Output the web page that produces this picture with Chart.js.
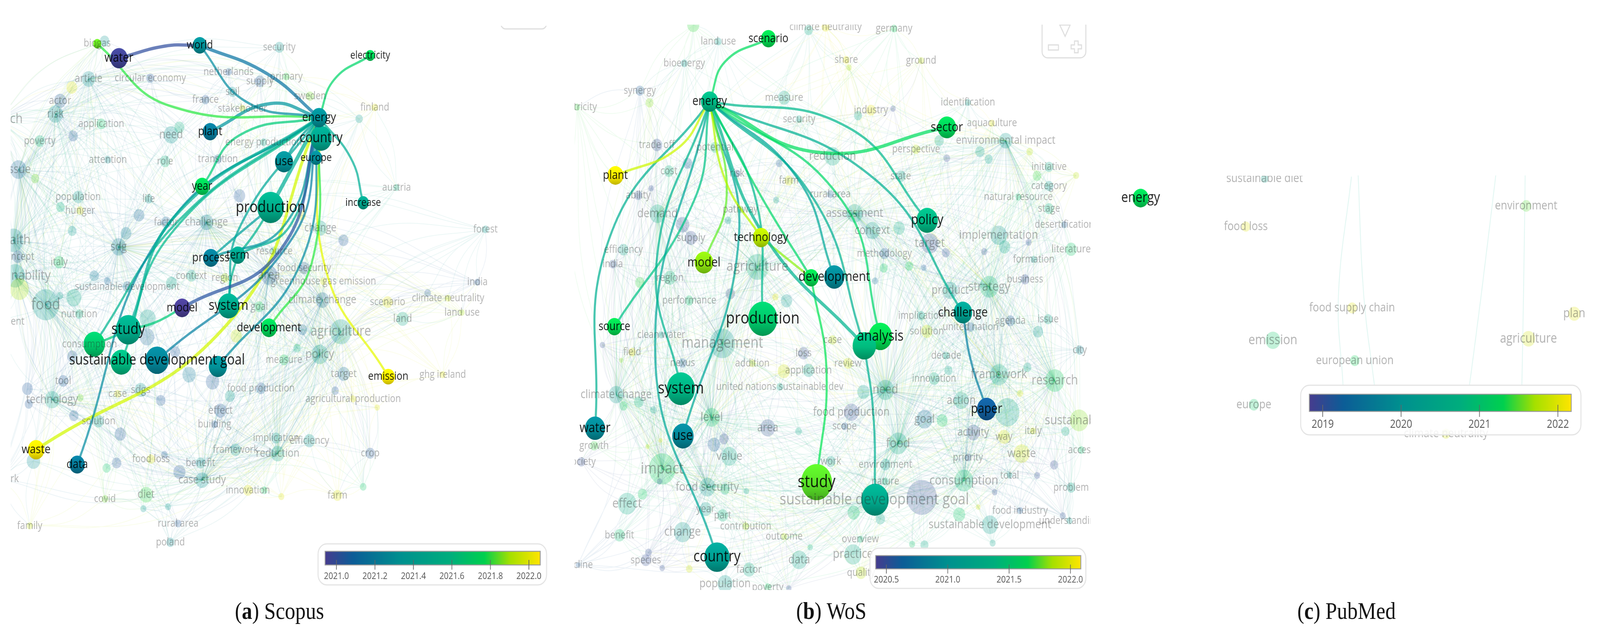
<!DOCTYPE html>
<html>
<head>
<meta charset="utf-8">
<title>Keyword maps</title>
<script src="https://cdn.jsdelivr.net/npm/chart.js@4/dist/chart.umd.min.js"></script>
<style>
    html, body { margin: 0; padding: 0; background: #fff; overflow: hidden; }
    canvas { display: block; }
</style>
</head>
<body>
<!-- drawn at the figure's own size, then fitted to whatever window it is opened in -->
<canvas id="mapChart" width="4789" height="1615" style="width:100vw;height:100vh"></canvas>
<script>
    // map units are the pixels of the source figure
    const scopusFocusLabels = ['water','~biogas','world','electricity','country','energy','europe','use','plant','year','increase','production','process','term','model','system','development','study','~consumption','~goal','sustainable development goal','~sdg','emission','waste','data'];
    const scopusFocusX = [356,291,598,1108,961,955,946,850,629,605,1087,810,631,712,545,684,805,384,282,363,470,652,1162,108,231];
    const scopusFocusY = [149,112,116,142,354,301,404,414,337,477,519,531,660,653,788,783,839,844,881,927,922,938,964,1151,1189];
    const scopusFocusHits = [16.5,3.5,11,4.8,25,15,8,18,12,12,7,39,13,12,14,25,14,35,25,25,30,18,9.8,15,13];
    const scopusFocusYear = [2020.96,2021.85,2021.3,2021.75,2021.45,2021.3,2021.28,2021.3,2021.2,2021.75,2021.45,2021.5,2021.22,2021.45,2020.94,2021.48,2021.75,2021.5,2021.68,2021.6,2021.25,2021.3,2022.05,2022.05,2021.2];

    const scopusLinkFrom = ['water','world','world','~biogas','plant','electricity','year','energy','energy','energy','energy','energy','energy','energy','energy','energy','energy','energy','energy','energy','energy','energy','energy','energy','energy','production','production','system','model','~consumption'];
    const scopusLinkTo = ['world','energy','energy','energy','energy','energy','energy','study','data','~consumption','~goal','sustainable development goal','~sdg','model','system','production','process','term','use','country','europe','development','emission','waste','increase','process','term','term','study','study'];
    const scopusLinkMidX = [494,800,736,505,810,1000,715,526,494,540,510,873,905,842,715,880,852,873,890,958,950,936,975,695,1052,720,760,690,465,330];
    const scopusLinkMidY = [118,189,260,270,265,204,347,551,586,560,600,612,663,637,586,420,576,571,360,330,350,663,690,815,408,595,600,720,825,865];
    const scopusLinkYear = [2021.0,2021.15,2021.25,2021.8,2021.3,2021.7,2021.65,2021.45,2021.25,2021.5,2021.55,2021.2,2021.25,2021.02,2021.4,2021.45,2021.3,2021.45,2021.35,2021.4,2021.3,2021.8,2021.98,2021.95,2021.45,2021.35,2021.5,2021.5,2021.65,2021.65];
    const scopusLinkWeight = [3,3,2,2,3,2,2,3,2,2,2,2,2,3,2,4,2,2,2,3,3,2,2,3,2,2,2,2,2,2];

    const scopusFaintLabels = [
        'biogas','','article','circular economy','','actor','risk','research','application','poverty',
        '','need','','netherlands','security','supply','primary','soil','france','sweden',
        'finland','','stakeholder','energy production','transition','attention','role','issue','','population',
        'life','','austria','','','hunger','factor','challenge','change','',
        'forest','','','','health','sdg','resource','concept','italy','food security',
        'area','','sustainability','context','region','','','sustainable development','greenhouse gas emission','india',
        'climate neutrality','','climate change','scenario','goal','food','','','','nutrition',
        'land','land use','environment','','agriculture','','','','','consumption',
        'policy','measure','','','','','target','ghg ireland','tool','',
        'technology','','','case','sdgs','food production','','','agricultural production','',
        '','effect','','solution','building','','implication','efficiency','framework','reduction',
        'crop','food loss','benefit','','','','','case study','network','',
        'innovation','','','farm','','diet','covid','','','family',
        'rural area','poland'];
    const scopusFaintX = [
        291,313,265,450,215,180,166,-3,303,119,
        219,512,537,684,836,778,857,696,615,928,
        1122,1075,726,789,652,323,494,55,105,234,
        445,717,1187,416,181,240,497,618,959,903,
        1453,216,377,1028,40,355,821,53,177,910,
        805,282,45,573,673,513,321,381,968,1429,
        1341,1280,965,1160,776,137,221,58,179,237,
        1205,1383,-7,442,1020,905,440,707,889,268,
        957,850,216,566,636,524,1029,1325,189,82,
        156,240,86,352,421,781,688,1003,1057,1129,
        481,660,221,295,642,360,826,926,705,831,
        1108,452,600,492,349,319,537,605,5,100,
        742,791,842,1010,1087,437,314,429,503,89,
        533,510];
    const scopusFaintY = [
        111,105,202,200,224,258,292,305,317,361,
        348,345,326,184,121,208,196,235,255,246,
        275,304,278,364,407,409,413,434,457,504,
        509,501,480,551,530,539,569,569,584,551,
        587,591,597,615,615,632,643,657,671,686,
        704,706,706,706,711,724,719,734,720,722,
        763,750,768,773,785,780,762,740,757,804,
        816,800,823,816,849,844,862,860,891,881,
        907,921,912,959,977,901,957,959,975,995,
        1023,1018,1034,1008,998,994,1014,1000,1021,1043,
        1025,1051,1064,1078,1086,1111,1121,1128,1151,1161,
        1160,1175,1185,1164,1185,1198,1208,1229,1226,1180,
        1255,1255,1271,1268,1246,1266,1277,1302,1297,1346,
        1340,1388];
    const scopusFaintHits = [
        3.5,4.8,9.8,3.5,6.3,8,12,22,4.8,5.5,
        4.8,12,5.5,2.4,4.8,5.5,2.4,4.1,3.5,3.5,
        2.4,3,2.4,2.4,3.5,2.4,5.5,14,3.5,6.3,
        3.5,7,2,6.3,4.1,3,5.5,9.8,9,4.1,
        2.4,4.1,6.3,5.5,22,12,3.5,6.3,6.3,6.3,
        15,4.8,22,5.5,3.5,6.3,2.4,4.8,2.4,2,
        2,2.4,9.8,5.5,4.8,39,12,19,2.4,3.5,
        8,1.6,2.4,14,25,4.8,12,7,3,3.5,
        15,4.8,5.5,9.8,9.8,5.5,8,2,5.5,6.3,
        12,2.4,3.5,2.4,8,5.5,5.5,3,2,1.6,
        4.8,8,4.8,6.3,2.4,7,4.8,7,6.3,9.8,
        4.8,3.5,4.8,2.4,4.8,3.5,8,9.8,3.5,9.8,
        4.8,2.4,2,4.8,2.4,9.8,2.4,2,2,2,
        2.4,3.5];
    const scopusFaintYear = [
        2021.85,2021.35,2021.3,2021.05,2022,2021.05,2021.3,2021.5,2021.7,2021.6,
        2021.05,2021.35,2021.6,2021.05,2021.35,2021.05,2021.8,2021.35,2021.05,2021.85,
        2022,2021.4,2021.95,2021.5,2021.1,2021.3,2021.6,2021.1,2021.85,2021.4,
        2021.4,2021.05,2021.6,2021.1,2021.6,2022,2021.1,2021.25,2021.5,2022,
        2021.4,2021.4,2021.2,2021.05,2021.3,2021.2,2021.5,2021.05,2021.75,2021.05,
        2021.05,2021.2,2021.4,2021.5,2021.9,2021.5,2021.1,2021.1,2022,2021.05,
        2021.95,2021.05,2021.1,2022,2021.7,2021.4,2021.5,2021.9,2021.4,2021.6,
        2021.5,2021.9,2021.4,2021.45,2021.4,2021.1,2021.1,2021.95,2021.6,2021.5,
        2021.4,2021.7,2021.05,2021.2,2021.05,2021.05,2021.15,2022,2021.05,2021.05,
        2021.45,2021.85,2021.05,2022,2021.4,2021.05,2021.4,2021.05,2022,2022,
        2021.05,2021.05,2021.05,2021.4,2021.05,2021.05,2021.4,2021.35,2021.35,2021.45,
        2021.05,2022,2021.35,2021.05,2021.05,2021.7,2021.05,2021.35,2021.2,2021.3,
        2022,2021.7,2022,2022,2021.7,2021.8,2021.85,2021.4,2021.4,2021.95,
        2021.05,2021.3];
    const scopusHubs = ['food','sustainability','agriculture','policy','challenge','health','climate change','area','sdg','technology','article','risk','research','case study','reduction','issue'];

    const wosFocusLabels = ['scenario','energy','sector','policy','plant','technology','model','~development','development','challenge','production','source','analysis','~analysis','system','water','use','paper','study','~goal','country'];
    const wosFocusX = [2300,2124,2834,2775,1842,2278,2107,2428,2497,2882,2283,1839,2635,2587,2038,1781,2044,2953,2444,2619,2146];
    const wosFocusY = [99,260,326,564,449,608,672,711,709,800,816,836,861,885,995,1096,1116,1047,1234,1279,1426];
    const wosFocusHits = [12,16.5,19,25,14,15,19,12,22,19,47,12,30,30,43,22,25,20.5,52,41,35];
    const wosFocusYear = [2021.65,2021.38,2021.61,2021.38,2022.05,2021.88,2021.81,2021.65,2020.91,2021.11,2021.51,2021.65,2021.65,2021.41,2021.35,2020.91,2020.88,2020.61,2021.75,2021.21,2021.08];

    const wosLinkFrom = ['energy','energy','energy','energy','energy','energy','energy','energy','~analysis','energy','~development','technology','technology','model','plant','production','system','water','use','country','source','paper'];
    const wosLinkTo = ['scenario','sector','policy','challenge','development','analysis','~analysis','~development','~goal','~analysis','study','energy','~development','energy','energy','energy','energy','energy','energy','energy','energy','challenge'];
    const wosLinkMidX = [2170,2450,2538,2619,2385,2517,2436,2283,2614,2283,2474,2170,2353,2175,2028,2262,1966,1823,2211,1961,2079,2905];
    const wosLinkMidY = [158,390,326,459,454,510,510,510,1060,597,956,459,660,500,380,510,663,612,612,904,510,920];
    const wosLinkYear = [2021.6,2021.6,2021.3,2021.2,2021.1,2021.55,2021.2,2021.55,2021.2,2021.25,2021.65,2021.85,2021.8,2021.75,2021.9,2021.3,2021.25,2021.2,2021.1,2021.1,2021.4,2020.8];
    const wosLinkWeight = [2,3,2,2,2,2,2,2,2,3,2,2,2,2,2,2,2,2,2,2,2,2];

    const wosFaintLabels = [
        '','climate neutrality','','germany','land use','share','','ground','bioenergy','synergy',
        '','measure','security','identification','industry','','','aquaculture','electricity','trade off',
        'potential','reduction','perspective','environmental impact','','','','','cost','',
        'risk','','','state','initiative','','','category','farm','ability',
        '','rural area','','natural resource','stage','pathway','demand','assessment','','',
        'supply','','context','implementation','target','','desertification','','literature','formation',
        'efficiency','','','methodology','','','','india','agriculture','region',
        '','','business','strategy','product','','performance','','','implication',
        'agenda','issue','clean water','solution','united nation','','management','case','field','loss',
        'decade','city','nexus','addition','','','application','','review','framework',
        '','','innovation','research','climate change','need','','united nations sustainable dev','action','',
        '','','','level','','food production','goal','','scope','sustainability',
        'area','','activity','way','italy','','growth','','','',
        '','food','value','waste','access','society','priority','','environment','impact',
        'work','total','','consumption','nature','problem','food security','','','',
        '','effect','','sustainable development goal','','year','part','','','',
        '','food industry','','understanding','sustainable development','change','benefit','outcome','contribution','overview',
        '','','','','practice','species','','','data','factor',
        'decline','','quality','population','poverty',''];
    const wosFaintX = [
        2075,2471,2420,2676,2150,2533,2541,2757,2048,1915,
        1944,2347,2392,2897,2607,2673,2568,2969,1727,1966,
        2140,2492,2742,3010,2811,2933,2959,3082,2002,2058,
        2206,2332,2834,2696,3140,3104,3221,3140,2361,1910,
        1949,2485,2323,3048,3140,2216,1968,2558,2043,2179,
        2068,2691,2611,2989,2783,3007,3186,3079,3206,3094,
        1866,2946,2831,2647,2721,2645,2765,1834,2267,2005,
        1915,2619,3068,2961,2844,2186,2063,2321,2354,2757,
        3024,3137,1979,2774,2905,3107,2162,2492,1892,2405,
        2832,3232,2043,2252,1803,1859,2420,2346,2538,2990,
        3075,2839,2796,3157,1844,2650,2584,2334,2877,3053,
        3015,1912,1866,2130,1956,2548,2767,2820,2528,3230,
        2298,2390,2913,3005,3092,3189,1778,1938,2137,2167,
        1977,2688,2183,3058,3237,1740,2897,3155,2650,1982,
        2487,3022,3104,2885,2650,3206,2117,2170,2234,1974,
        2977,1877,1923,2617,2759,2112,2163,2555,2635,2871,
        2928,3053,3181,3201,2963,2043,1854,2347,2232,2575,
        2730,2767,2971,2425,2553,1933,1941,1982,2392,2242,
        1730,2063,2577,2170,2298,2361];
    const wosFaintY = [
        64,69,77,73,106,153,173,155,162,232,
        263,250,305,262,282,278,296,315,274,371,
        377,400,382,360,360,388,407,388,438,418,
        444,418,405,451,427,450,449,476,462,500,
        482,497,512,504,534,536,547,546,575,564,
        609,584,590,602,623,632,575,620,638,664,
        639,644,647,649,681,686,685,676,683,711,
        723,719,715,734,743,752,769,760,770,808,
        821,817,857,848,837,849,879,870,901,904,
        910,896,929,930,883,922,948,950,930,959,
        940,948,969,974,1010,998,1003,990,1025,1007,
        1055,1029,1039,1068,1049,1055,1073,1076,1091,1076,
        1095,1104,1107,1118,1103,1104,1141,1143,1138,1123,
        1127,1135,1168,1161,1152,1182,1171,1190,1189,1200,
        1181,1217,1217,1230,1232,1248,1247,1252,1257,1232,
        1260,1289,1265,1279,1273,1303,1319,1312,1328,1317,
        1298,1307,1320,1333,1343,1362,1370,1373,1347,1380,
        1393,1395,1390,1401,1419,1434,1414,1454,1433,1458,
        1446,1456,1466,1494,1503,1506];
    const wosFaintHits = [
        8,3.5,4.1,2.4,2.4,2.4,1.6,2,2.4,4.1,
        3.5,8,2.4,2,4.8,1.6,3.5,2,2,6.3,
        4.8,14,3.5,9.8,4.8,4.8,3.5,2.4,5.5,4.8,
        2.4,2.4,2.4,5.5,4.1,4.1,2,4.1,4.1,3.5,
        1.6,2.4,2,2,4.8,2.4,14,14,9.8,2.4,
        8,7,12,15,16.5,7,2,2,7,2,
        5.5,2,3.5,4.8,3.5,3.5,1.6,3,27,8,
        4.8,2,4.1,19,12,4.8,4.1,2,7,3.5,
        4.8,4.1,2,7,3.5,5.5,35,3.5,3,6.3,
        2.4,3.5,3.5,2.4,1.6,1,7,8,4.8,18,
        3.5,3.5,6.3,20.5,12,16.5,8,2.4,12,2,
        32,4.8,3.5,14,2.4,12,14,6.3,2.4,19,
        12,2.4,9.8,8,2,3.5,3.5,1,8,4.8,
        1,19,14,14,2.4,3.5,2.4,3.5,5.5,39,
        4.8,1.6,2,19,2.4,4.1,14,4.8,1.6,1.6,
        1.6,19,4.8,39,49,8,6.3,8,4.8,8,
        1.2,2,2,2,14,16.5,6.3,2,2.4,2,
        2,3.5,2,1.6,16.5,5.5,2.4,1.6,14,8,
        1.2,2.4,6.3,12,2.4,1.6];
    const wosFaintYear = [
        2021.7,2022,2021.3,2021.6,2021.1,2022,2021.85,2021.9,2021.1,2020.6,
        2021.8,2021.2,2021.2,2021.1,2022,2020.5,2021.2,2022,2021.7,2020.5,
        2021.5,2021.3,2021.9,2021.1,2021.3,2021.2,2021.2,2021.9,2021.4,2020.6,
        2020.5,2020.6,2020.5,2021.2,2021.3,2021.7,2021.9,2021.1,2021.95,2020.5,
        2020.5,2020.6,2021.1,2021.5,2021.4,2021.7,2021.3,2021.2,2020.5,2021.1,
        2020.5,2021.3,2021.1,2021.05,2020.5,2021.2,2020.6,2020.5,2021.55,2021.1,
        2021.2,2020.5,2020.5,2020.6,2021.6,2021.6,2020.6,2020.5,2021.35,2021.4,
        2021.7,2020.7,2020.5,2021.45,2021.1,2020.5,2021.5,2022,2021.1,2021.2,
        2020.6,2021.2,2021.1,2021.95,2020.6,2021.05,2021.1,2021.9,2022,2020.5,
        2021.2,2020.9,2020.6,2021.9,2020.5,2021.8,2021.2,2021.95,2021.95,2021.3,
        2021.2,2021.2,2021.3,2021.6,2021.1,2021.2,2021.2,2021.2,2021.2,2021.95,
        2021.2,2021.4,2021.6,2021.55,2021.2,2020.5,2020.7,2021.6,2020.6,2021.8,
        2020.5,2021.3,2020.5,2021.95,2021.95,2021.25,2021.7,2021.9,2020.6,2020.5,
        2021.95,2021.25,2021.2,2021.95,2021.5,2020.5,2020.5,2020.5,2021.1,2021.6,
        2021.2,2021.05,2020.5,2021.45,2021.4,2021.2,2021.1,2021.4,2021.2,2020.5,
        2020.5,2021.3,2021.6,2021.3,2020.5,2021.1,2021.4,2021.5,2021.2,2021.55,
        2021.95,2020.6,2020.5,2021.1,2021.15,2021.05,2021.5,2021.85,2021.85,2021.4,
        2021.5,2021.3,2021.2,2021.4,2021.25,2020.5,2020.5,2020.5,2021.2,2021.3,
        2020.6,2021.95,2021.9,2021.1,2021.6,2020.5];
    const wosHubs = ['management','agriculture','impact','food','research','consumption','strategy','food security','sustainable development goal','framework','need','level','demand','assessment','environmental impact','climate change'];

    const pubmedFocusLabels = ['energy'];
    const pubmedFocusX = [3414];
    const pubmedFocusY = [507];
    const pubmedFocusHits = [14];
    const pubmedFocusYear = [2021.27];

    const pubmedFaintLabels = ['sustainable diet','food loss','environment','food supply chain','emission','plan','agriculture','european union','europe','climate neutrality'];
    const pubmedFaintX = [3785,3729,4568,4047,3810,4712,4575,4055,3753,4328];
    const pubmedFaintY = [457,580,527,788,871,803,867,923,1036,1110];
    const pubmedFaintHits = [3,4.1,5.5,4.8,12,8,9.8,4.8,5.5,4.1];
    const pubmedFaintYear = [2020.4,2022,2021.5,2022,2021.1,2022,2021.9,2021.3,2021.1,2021.9];

    // the few pale links that cross the PubMed map: start, middle, end
    const pubmedLinkStartX = [4065,4045,4477,4565];
    const pubmedLinkMidX = [4082,4006,4433,4560];
    const pubmedLinkEndX = [4114,4020,4398,4555];
    const pubmedLinkStartY = [449,452,449,449];
    const pubmedLinkMidY = [758,758,758,758];
    const pubmedLinkEndY = [988,988,988,988];

    const scopusTicks = [2021.0,2021.2,2021.4,2021.6,2021.8,2022.0];
    const wosTicks = [2020.5,2021.0,2021.5,2022.0];
    const pubmedTicks = [2019,2020,2021,2022];

    const captionLetters = ['a','b','c'];
    const captionNames = ['Scopus','WoS','PubMed'];

    const colorStops = [[0,'#463c8e'],[0.13,'#0c5d97'],[0.35,'#00908f'],[0.58,'#00ae7d'],[0.74,'#00d04f'],[0.86,'#a5e000'],[1,'#ffe500']];

    const panels = [
        {
            clip: {left: 32, top: 50, right: 1640, bottom: 1500},
            yearMin: 2020.94, yearMax: 2022.06, fontScale: 1.16, nearestHubs: 8, nearestNodes: 4,
            focus: {labels: scopusFocusLabels, x: scopusFocusX, y: scopusFocusY, hits: scopusFocusHits, year: scopusFocusYear},
            faint: {labels: scopusFaintLabels, x: scopusFaintX, y: scopusFaintY, hits: scopusFaintHits, year: scopusFaintYear},
            links: {from: scopusLinkFrom, to: scopusLinkTo, midX: scopusLinkMidX, midY: scopusLinkMidY, year: scopusLinkYear, weight: scopusLinkWeight},
            hubs: scopusHubs,
            legend: {ticks: scopusTicks, digits: 1, box: [952,1392,684,105], bar: [973,1411,644,35], first: 1007, last: 1583, tickTop: 1433, tickBottom: 1458, labelY: 1475, font: 24},
            caption: {x: 703}
        },
        {
            clip: {left: 1720, top: 63, right: 3264, bottom: 1510},
            yearMin: 2020.41, yearMax: 2022.08, fontScale: 1.16, nearestHubs: 8, nearestNodes: 4,
            focus: {labels: wosFocusLabels, x: wosFocusX, y: wosFocusY, hits: wosFocusHits, year: wosFocusYear},
            faint: {labels: wosFaintLabels, x: wosFaintX, y: wosFaintY, hits: wosFaintHits, year: wosFaintYear},
            links: {from: wosLinkFrom, to: wosLinkTo, midX: wosLinkMidX, midY: wosLinkMidY, year: wosLinkYear, weight: wosLinkWeight},
            hubs: wosHubs,
            legend: {ticks: wosTicks, digits: 1, box: [2604,1403,646,103], bar: [2621,1422,614,34], first: 2653, last: 3204, tickTop: 1445, tickBottom: 1468, labelY: 1484, font: 24},
            caption: {x: 2383}
        },
        {
            clip: {left: 3300, top: 450, right: 4789, bottom: 1140},
            yearMin: 2018.83, yearMax: 2022.17, fontScale: 1.35, nearestHubs: 0, nearestNodes: 0,
            focus: {labels: pubmedFocusLabels, x: pubmedFocusX, y: pubmedFocusY, hits: pubmedFocusHits, year: pubmedFocusYear},
            faint: {labels: pubmedFaintLabels, x: pubmedFaintX, y: pubmedFaintY, hits: pubmedFaintHits, year: pubmedFaintYear},
            links: null,
            hubs: [],
            legend: {ticks: pubmedTicks, digits: 0, box: [3893,986,839,127], bar: [3919,1009,784,44], first: 3959, last: 4663, tickTop: 1036, tickBottom: 1067, labelY: 1087, font: 29},
            caption: {x: 3883}
        }
    ];

    const figureW = 4789;
    const figureH = 1615;

    function radiusFor(hits) {
        return 6.4 * Math.sqrt(hits);
    }

    function fontFor(hits, scale) {
        return Math.max(23, 15 + 0.5 * radiusFor(hits)) * scale;
    }

    function hexToRgb(hex) {
        return [parseInt(hex.slice(1, 3), 16), parseInt(hex.slice(3, 5), 16), parseInt(hex.slice(5, 7), 16)];
    }

    function paletteAt(t) {
        t = Math.min(1, Math.max(0, t));
        for (let i = 1; i < colorStops.length; i++) {
            if (t <= colorStops[i][0]) {
                const a = colorStops[i - 1];
                const b = colorStops[i];
                const f = (t - a[0]) / (b[0] - a[0]);
                const ca = hexToRgb(a[1]);
                const cb = hexToRgb(b[1]);
                return ca.map((v, k) => Math.round(v + (cb[k] - v) * f));
            }
        }
        return hexToRgb(colorStops[colorStops.length - 1][1]);
    }

    function yearColor(panel, year, alpha, shade) {
        const t = (year - panel.yearMin) / (panel.yearMax - panel.yearMin);
        const c = paletteAt(t).map(v => Math.min(255, Math.round(v * (shade || 1))));
        return `rgba(${c[0]},${c[1]},${c[2]},${alpha})`;
    }

    function panelClip(panel) {
        // dataset clip is measured outwards from the chart area, so inwards is negative
        return {
            left: -panel.clip.left,
            top: -panel.clip.top,
            right: -(figureW - panel.clip.right),
            bottom: -(figureH - panel.clip.bottom)
        };
    }

    function findNode(panel, name) {
        const i = panel.focus.labels.indexOf(name);
        return {x: panel.focus.x[i], y: panel.focus.y[i]};
    }

    function closestTo(list, x, y, count) {
        return list
            .map(p => ({p: p, d: Math.hypot(p.x - x, p.y - y)}))
            .filter(e => e.d > 1)
            .sort((a, b) => a.d - b.d)
            .slice(0, count)
            .map(e => e.p);
    }

    // pale background web: each faint keyword joins its nearest big keywords and neighbours
    function washDatasets(panel) {
        const out = [];
        const faint = panel.faint;
        const allPoints = faint.x.map((x, i) => ({x: x, y: faint.y[i]}));
        const hubPoints = panel.hubs.map(name => allPoints[faint.labels.indexOf(name)]);
        faint.labels.forEach((label, i) => {
            const hereX = faint.x[i];
            const hereY = faint.y[i];
            const targets = closestTo(hubPoints, hereX, hereY, panel.nearestHubs)
                .concat(closestTo(allPoints, hereX, hereY, panel.nearestNodes));
            const points = [];
            targets.forEach(t => {
                points.push({x: hereX, y: hereY});
                points.push({
                    x: (hereX + t.x) / 2 - (t.y - hereY) * 0.1,
                    y: (hereY + t.y) / 2 + (t.x - hereX) * 0.1
                });
                points.push({x: t.x, y: t.y});
                points.push({x: null, y: null});
            });
            if (points.length) {
                out.push({
                    type: 'line',
                    data: points,
                    order: 4,
                    tension: 0.4,
                    borderWidth: 2,
                    borderColor: yearColor(panel, faint.year[i], 0.08),
                    pointRadius: 0,
                    clip: panelClip(panel)
                });
            }
        });
        return out;
    }

    function linkDatasets(panel) {
        if (!panel.links) return [];
        const links = panel.links;
        return links.from.map((name, i) => {
            const a = findNode(panel, name);
            const b = findNode(panel, links.to[i]);
            return {
                type: 'line',
                data: [a, {x: links.midX[i], y: links.midY[i]}, b],
                order: 2,
                tension: 0.45,
                borderWidth: 1.5 + links.weight[i] * 2.3,
                borderColor: yearColor(panel, links.year[i], 0.72, 1.1),
                borderCapStyle: 'round',
                pointRadius: 0,
                clip: panelClip(panel)
            };
        });
    }

    function faintDataset(panel) {
        const f = panel.faint;
        return {
            type: 'bubble',
            data: f.labels.map((l, i) => ({x: f.x[i], y: f.y[i], r: radiusFor(f.hits[i])})),
            order: 3,
            borderWidth: 0,
            backgroundColor: f.year.map(y => yearColor(panel, y, 0.24)),
            clip: panelClip(panel)
        };
    }

    function focusDataset(panel) {
        const f = panel.focus;
        return {
            type: 'bubble',
            data: f.labels.map((l, i) => ({x: f.x[i], y: f.y[i], r: radiusFor(f.hits[i])})),
            order: 1,
            borderWidth: 0,
            // nodes are a little darker towards the bottom
            backgroundColor: function(c) {
                const i = c.dataIndex;
                const flat = yearColor(panel, f.year[i || 0], 1);
                const raw = c.raw;
                if (!raw) return flat;
                const py = c.chart.scales.y.getPixelForValue(raw.y);
                if (!Number.isFinite(py)) return flat;
                const g = c.chart.ctx.createLinearGradient(0, py - raw.r, 0, py + raw.r);
                g.addColorStop(0, yearColor(panel, f.year[i], 1, 1.18));
                g.addColorStop(0.55, yearColor(panel, f.year[i], 1, 1.05));
                g.addColorStop(1, yearColor(panel, f.year[i], 1, 0.78));
                return g;
            },
            clip: panelClip(panel)
        };
    }

    function drawLabels(chart, panel, group, color) {
        const ctx = chart.ctx;
        const sx = chart.scales.x;
        const sy = chart.scales.y;
        ctx.save();
        ctx.beginPath();
        ctx.rect(panel.clip.left, panel.clip.top, panel.clip.right - panel.clip.left, panel.clip.bottom - panel.clip.top);
        ctx.clip();
        ctx.textAlign = 'center';
        ctx.textBaseline = 'middle';
        ctx.fillStyle = color;
        group.labels.forEach((label, i) => {
            if (!label || label[0] === '~') return;
            ctx.font = `${fontFor(group.hits[i], panel.fontScale).toFixed(1)}px "Open Sans"`;
            ctx.fillText(label, sx.getPixelForValue(group.x[i]), sy.getPixelForValue(group.y[i]));
        });
        ctx.restore();
    }

    function roundedBox(ctx, x, y, w, h, r) {
        ctx.beginPath();
        ctx.roundRect(x, y, w, h, r);
    }

    function drawColorLegend(ctx, panel) {
        const l = panel.legend;
        roundedBox(ctx, l.box[0], l.box[1], l.box[2], l.box[3], 26);
        ctx.fillStyle = 'rgba(255,255,255,0.85)';
        ctx.fill();
        ctx.strokeStyle = '#e4e4e4';
        ctx.lineWidth = 3;
        ctx.stroke();

        const g = ctx.createLinearGradient(l.bar[0], 0, l.bar[0] + l.bar[2], 0);
        colorStops.forEach(s => g.addColorStop(s[0], s[1]));
        ctx.fillStyle = g;
        ctx.fillRect(l.bar[0], l.bar[1], l.bar[2], l.bar[3]);
        ctx.strokeStyle = '#9a9a9a';
        ctx.lineWidth = 2.5;
        ctx.strokeRect(l.bar[0], l.bar[1], l.bar[2], l.bar[3]);

        const lo = l.ticks[0];
        const hi = l.ticks[l.ticks.length - 1];
        ctx.font = `${l.font}px "Open Sans"`;
        ctx.textAlign = 'center';
        ctx.textBaseline = 'middle';
        l.ticks.forEach(tick => {
            const x = l.first + (tick - lo) / (hi - lo) * (l.last - l.first);
            ctx.strokeStyle = '#666';
            ctx.lineWidth = 2;
            ctx.beginPath();
            ctx.moveTo(x, l.tickTop);
            ctx.lineTo(x, l.tickBottom);
            ctx.stroke();
            ctx.fillStyle = '#555';
            ctx.fillText(tick.toFixed(l.digits), x, l.labelY);
        });
    }

    // zoom controls left over from the map screenshots
    function drawMapControls(ctx) {
        ctx.save();
        ctx.strokeStyle = '#dedede';
        ctx.lineWidth = 3;
        ctx.beginPath();
        ctx.rect(1480, 66, 170, 20);
        ctx.clip();
        roundedBox(ctx, 1499, 20, 137, 54, 14);
        ctx.stroke();
        ctx.restore();

        ctx.save();
        ctx.strokeStyle = '#dedede';
        ctx.lineWidth = 3;
        ctx.beginPath();
        ctx.rect(3100, 63, 170, 100);
        ctx.clip();
        roundedBox(ctx, 3119, 20, 131, 128, 16);
        ctx.stroke();
        ctx.beginPath();
        ctx.moveTo(3172, 64);
        ctx.lineTo(3203, 64);
        ctx.lineTo(3188, 93);
        ctx.closePath();
        ctx.stroke();
        ctx.strokeRect(3138, 115, 30, 13);
        ctx.beginPath();
        ctx.moveTo(3216, 105);
        ctx.lineTo(3227, 105);
        ctx.lineTo(3227, 115);
        ctx.lineTo(3237, 115);
        ctx.lineTo(3237, 125);
        ctx.lineTo(3227, 125);
        ctx.lineTo(3227, 135);
        ctx.lineTo(3216, 135);
        ctx.lineTo(3216, 125);
        ctx.lineTo(3206, 125);
        ctx.lineTo(3206, 115);
        ctx.lineTo(3216, 115);
        ctx.closePath();
        ctx.stroke();
        ctx.restore();
    }

    function drawCaption(ctx, panel, i) {
        const runs = [['(', 'normal'], [captionLetters[i], 'bold'], [')', 'normal'], [' ' + captionNames[i], 'normal']];
        let x = panel.caption.x;
        ctx.fillStyle = '#111';
        ctx.textAlign = 'left';
        ctx.textBaseline = 'alphabetic';
        runs.forEach(run => {
            ctx.font = `${run[1]} 62px "Liberation Serif"`;
            ctx.fillText(run[0], x, 1584);
            x += ctx.measureText(run[0]).width;
        });
    }

    const mapDecor = {
        id: 'mapDecor',
        afterDatasetsDraw(chart) {
            const ctx = chart.ctx;
            panels.forEach(panel => drawLabels(chart, panel, panel.faint, 'rgba(40,40,40,0.36)'));
            panels.forEach(panel => drawLabels(chart, panel, panel.focus, 'rgba(0,0,0,0.88)'));
            drawMapControls(ctx);
            panels.forEach((panel, i) => {
                drawColorLegend(ctx, panel);
                drawCaption(ctx, panel, i);
            });
        }
    };

    function renderMaps() {
        const datasets = [];
        panels.forEach(panel => {
            washDatasets(panel).forEach(d => datasets.push(d));
            datasets.push(faintDataset(panel));
            linkDatasets(panel).forEach(d => datasets.push(d));
            datasets.push(focusDataset(panel));
        });

        // pale links on the PubMed map
        pubmedLinkStartX.forEach((x, i) => {
            datasets.push({
                type: 'line',
                data: [
                    {x: x, y: pubmedLinkStartY[i]},
                    {x: pubmedLinkMidX[i], y: pubmedLinkMidY[i]},
                    {x: pubmedLinkEndX[i], y: pubmedLinkEndY[i]}
                ],
                order: 4,
                tension: 0.4,
                borderWidth: 2.5,
                borderColor: 'rgba(120,215,195,0.22)',
                pointRadius: 0
            });
        });

        new Chart(document.getElementById('mapChart').getContext('2d'), {
            type: 'bubble',
            data: {datasets: datasets},
            plugins: [mapDecor],
            options: {
                responsive: false,
                animation: false,
                devicePixelRatio: 1,
                // bubbles must not shrink the chart area, map units stay equal to figure pixels
                layout: {padding: 0, autoPadding: false},
                events: [],
                plugins: {
                    legend: {display: false},
                    tooltip: {enabled: false}
                },
                scales: {
                    x: {type: 'linear', min: 0, max: figureW, display: false},
                    y: {type: 'linear', min: 0, max: figureH, reverse: true, display: false}
                }
            }
        });
    }
    window.onload = renderMaps;
</script>
</body>
</html>
